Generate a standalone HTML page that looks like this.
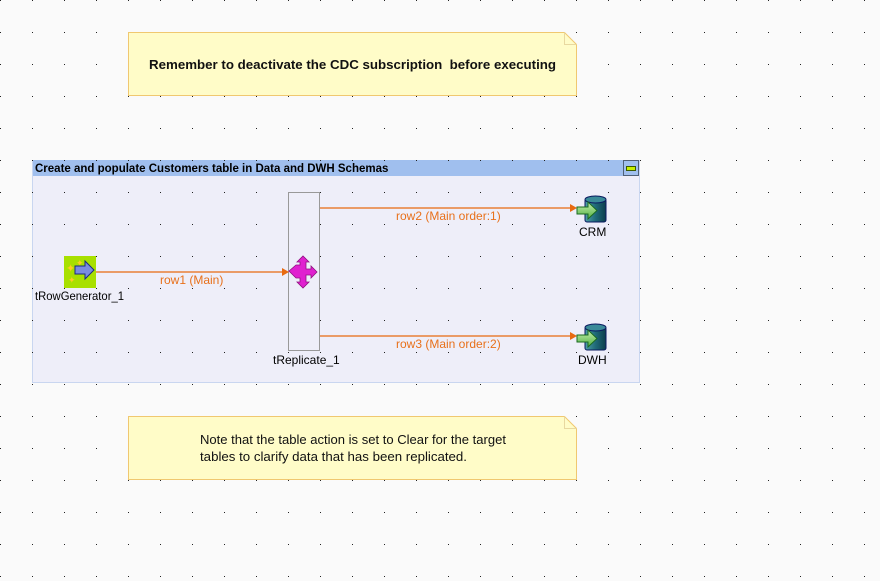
<!DOCTYPE html>
<html><head><meta charset="utf-8"><style>
html,body{margin:0;padding:0;background:#fafafa;}
svg{display:block;}
text{font-family:"Liberation Sans",sans-serif;}
</style></head><body>
<svg width="880" height="581" viewBox="0 0 880 581" xmlns="http://www.w3.org/2000/svg">
<defs>
<pattern id="dots" x="0" y="0" width="32" height="32" patternUnits="userSpaceOnUse">
<rect x="0" y="0" width="1" height="1" fill="#222"/>
</pattern>
<linearGradient id="cyl" x1="0" x2="1" y1="0" y2="0">
<stop offset="0" stop-color="#4fa0a8"/><stop offset="0.5" stop-color="#1f6a78"/><stop offset="1" stop-color="#0c3e4c"/>
</linearGradient>
<linearGradient id="garr" x1="0" x2="0" y1="0" y2="1">
<stop offset="0" stop-color="#c8f0b0"/><stop offset="1" stop-color="#50b040"/>
</linearGradient>
</defs>
<rect width="880" height="581" fill="#fafafa"/>
<rect x="32.5" y="160.5" width="607" height="222" fill="#eeeef9" stroke="#c9d6f0"/>
<rect x="33" y="160" width="606" height="16" fill="#a0bfee"/>
<rect width="880" height="581" fill="url(#dots)"/>
<text x="35" y="172" font-size="11.5" font-weight="bold" fill="#000">Create and populate Customers table in Data and DWH Schemas</text>
<rect x="623.5" y="160.5" width="15" height="15" fill="none" stroke="#000" stroke-dasharray="1,1"/>
<rect x="626.5" y="166.5" width="9" height="4" fill="#c8f000" stroke="#3a5a00"/>
<path d="M128.5 32.5 H564.5 L576.5 44.5 V95.5 H128.5 Z" fill="#fffcc8" stroke="#f0c870"/>
<path d="M564.5 32.5 V44.5 H576.5" fill="none" stroke="#e8d8a0"/>
<text x="149" y="69" font-size="13.3" font-weight="bold" fill="#111" textLength="407" lengthAdjust="spacing">Remember to deactivate the CDC subscription&#160; before executing</text>
<path d="M128.5 416.5 H564.5 L576.5 428.5 V479.5 H128.5 Z" fill="#fffcc8" stroke="#f0c870"/>
<path d="M564.5 416.5 V428.5 H576.5" fill="none" stroke="#e8d8a0"/>
<text x="200" y="444" font-size="13" fill="#111" textLength="306" lengthAdjust="spacingAndGlyphs">Note that the table action is set to Clear for the target</text>
<text x="200" y="461" font-size="13" fill="#111" textLength="267" lengthAdjust="spacingAndGlyphs">tables to clarify data that has been replicated.</text>
<rect x="288.5" y="192.5" width="31" height="158" fill="#eeeef9" stroke="#999"/>
<g stroke="#e86a10" stroke-width="1.3" fill="none">
<line x1="96" y1="272" x2="284" y2="272"/>
<line x1="320" y1="208" x2="572" y2="208"/>
<line x1="320" y1="336" x2="572" y2="336"/>
</g>
<g fill="#e86a10">
<path d="M282 268 L289 272 L282 276 Z"/>
<path d="M570 204 L577 208 L570 212 Z"/>
<path d="M570 332 L577 336 L570 340 Z"/>
</g>
<g font-size="12" fill="#e8701a">
<text x="160" y="284">row1 (Main)</text>
<text x="396" y="220">row2 (Main order:1)</text>
<text x="396" y="348">row3 (Main order:2)</text>
</g>
<rect x="64" y="256" width="32" height="32" fill="#a8e000"/>
<g fill="#ffcc22"><text x="66" y="272" font-size="11">✦</text><text x="76" y="266" font-size="9">✦</text><text x="68" y="283" font-size="9">✦</text></g>
<path d="M75 266 H85 V261 L94 270 L85 279 V274 H75 Z" fill="#7a8ce0" stroke="#1a2a80"/>
<path d="M289 271 L296 265 H300 L300 262 H297 L303 256 L309 262 H306 V269 H311 V266 L317 272 L311 278 V275 H306 V282 H309 L303 288 L297 282 H300 V278 H296 Z" fill="#e020d0" stroke="#901080" stroke-width="0.8"/>
<g>
<rect x="585" y="199" width="21" height="23" rx="2" fill="url(#cyl)" stroke="#0a1a60"/>
<ellipse cx="595.5" cy="199.5" rx="10.5" ry="3.5" fill="#3a8a98" stroke="#0a1a60"/>
<path d="M577 207 H588 V202 L597 210.5 L588 219 V214 H577 Z" fill="url(#garr)" stroke="#1a6a20"/>
</g>
<g>
<rect x="585" y="327" width="21" height="23" rx="2" fill="url(#cyl)" stroke="#0a1a60"/>
<ellipse cx="595.5" cy="327.5" rx="10.5" ry="3.5" fill="#3a8a98" stroke="#0a1a60"/>
<path d="M577 335 H588 V330 L597 338.5 L588 347 V342 H577 Z" fill="url(#garr)" stroke="#1a6a20"/>
</g>
<g font-size="12" fill="#000">
<text x="35" y="300" textLength="89" lengthAdjust="spacingAndGlyphs">tRowGenerator_1</text>
<text x="273" y="364">tReplicate_1</text>
<text x="579" y="236">CRM</text>
<text x="578" y="364">DWH</text>
</g>
</svg>
</body></html>
